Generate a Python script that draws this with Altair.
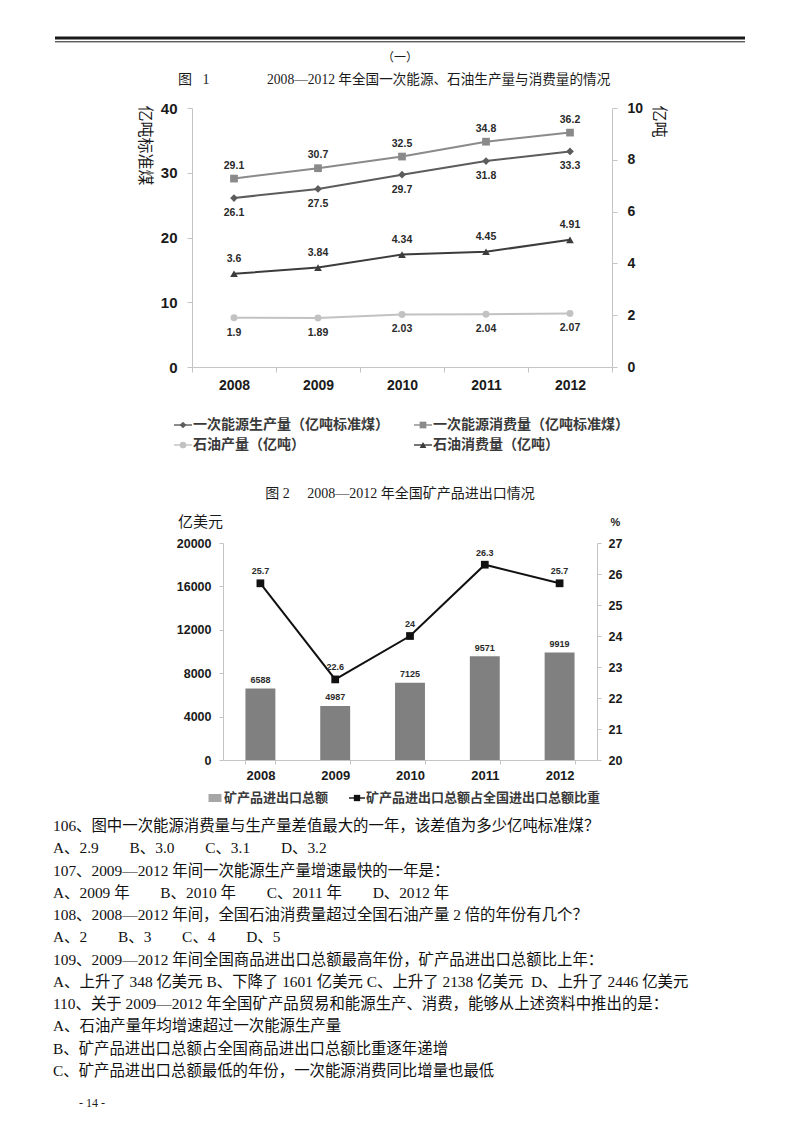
import altair as alt
import pandas as pd

# ---------------- data ----------------
years = ["2008", "2009", "2010", "2011", "2012"]
energy_prod = [26.1, 27.5, 29.7, 31.8, 33.3]
energy_cons = [29.1, 30.7, 32.5, 34.8, 36.2]
oil_prod = [1.9, 1.89, 2.03, 2.04, 2.07]
oil_cons = [3.6, 3.84, 4.34, 4.45, 4.91]
series1_names = ["一次能源生产量（亿吨标准煤）", "一次能源消费量（亿吨标准煤）",
                 "石油产量（亿吨）", "石油消费量（亿吨）"]
left_ticks1 = [0, 10, 20, 30, 40]
right_ticks1 = [0, 2, 4, 6, 8, 10]

mineral_trade = [6588, 4987, 7125, 9571, 9919]
mineral_share = [25.7, 22.6, 24, 26.3, 25.7]
series2_names = ["矿产品进出口总额", "矿产品进出口总额占全国进出口总额比重"]
left_ticks2 = [0, 4000, 8000, 12000, 16000, 20000]
right_ticks2 = [20, 21, 22, 23, 24, 25, 26, 27]

section_label = "（一）"
fig1_no = "图\u00a0\u00a0\u00a01"
fig1_title = "2008—2012 年全国一次能源、石油生产量与消费量的情况"
fig1_left_title = "亿吨标准煤"
fig1_right_title = "亿吨"
fig2_title = "图 2\u3000 2008—2012 年全国矿产品进出口情况"
fig2_left_title = "亿美元"
fig2_right_title = "%"
question_lines = [
    "106、图中一次能源消费量与生产量差值最大的一年，该差值为多少亿吨标准煤？",
    "A、2.9\u3000\u3000B、3.0\u3000\u3000C、3.1\u3000\u3000D、3.2",
    "107、2009—2012 年间一次能源生产量增速最快的一年是：",
    "A、2009 年\u3000\u3000B、2010 年\u3000\u3000C、2011 年\u3000\u3000D、2012 年",
    "108、2008—2012 年间，全国石油消费量超过全国石油产量 2 倍的年份有几个？",
    "A、2\u3000\u3000B、3\u3000\u3000C、4\u3000\u3000D、5",
    "109、2009—2012 年间全国商品进出口总额最高年份，矿产品进出口总额比上年：",
    "A、上升了 348 亿美元 B、下降了 1601 亿美元 C、上升了 2138 亿美元\u00a0\u00a0D、上升了 2446 亿美元",
    "110、关于 2009—2012 年全国矿产品贸易和能源生产、消费，能够从上述资料中推出的是：",
    "A、石油产量年均增速超过一次能源生产量",
    "B、矿产品进出口总额占全国商品进出口总额比重逐年递增",
    "C、矿产品进出口总额最低的年份，一次能源消费同比增量也最低",
]
page_number = "- 14 -"

# ---------------- styles ----------------
SERIF = "Liberation Serif, Noto Sans CJK SC"
CJK = "Noto Sans CJK SC"
NUM = "Liberation Sans"
AXIS_GRAY = "#c4c4c4"
TXT = "#1a1a1a"
colors1 = ["#5c5c5c", "#8a8a8a", "#c2c2c2", "#3c3c3c"]
shapes1 = ["diamond", "square", "circle", "triangle-up"]
sizes1 = [60, 60, 48, 60]
dy1 = [15, -13, 15, -15]

W = 784
HA, HB, HC = 462, 345, 309
one = pd.DataFrame({"a": [0]})


def vtext(txt, x, y, size, font=SERIF, align="left", weight="normal", color=TXT):
    return alt.Chart(one).mark_text(text=txt, font=font, fontSize=size, align=align,
                                    baseline="middle", fontWeight=weight, color=color
                                    ).encode(x=alt.value(x), y=alt.value(y))


# ================= Panel A : header + figure 1 =================
rule_thick = alt.Chart(one).mark_rule(color="#1a1a1a", strokeWidth=3).encode(
    x=alt.value(47), x2=alt.value(737), y=alt.value(30))
rule_thin = alt.Chart(one).mark_rule(color="#1a1a1a", strokeWidth=1).encode(
    x=alt.value(47), x2=alt.value(737), y=alt.value(33.8))
header = alt.layer(
    rule_thick, rule_thin,
    vtext(section_label, 392, 50, 12, align="center"),
    vtext(fig1_no, 170, 72, 14),
    vtext(fig1_title, 259, 72, 13.6),
)

A_PL, A_PR, A_PT, A_PB = 184, 604, 100, 359
xs1 = alt.Scale(type="band", domain=years, range=[A_PL, A_PR], paddingInner=0, paddingOuter=0)
x_axis1 = alt.Axis(orient="bottom", offset=-(HA - A_PB), tickBand="extent", tickSize=5,
                   labelPadding=6, labelFont=NUM, labelFontWeight="bold", labelFontSize=14,
                   labelColor=TXT, labelAngle=0, domainColor=AXIS_GRAY, tickColor=AXIS_GRAY,
                   title=None, grid=False)

left_df = pd.DataFrame({
    "year": years * 2,
    "v": energy_prod + energy_cons,
    "s": [series1_names[0]] * 5 + [series1_names[1]] * 5,
})
right_df = pd.DataFrame({
    "year": years * 2,
    "v": oil_prod + oil_cons,
    "s": [series1_names[2]] * 5 + [series1_names[3]] * 5,
})

yL1 = alt.Y("v:Q", scale=alt.Scale(domain=[0, 40], range=[A_PB, A_PT], nice=False),
            axis=alt.Axis(orient="left", offset=-A_PL, values=left_ticks1, tickSize=5,
                          labelPadding=10, labelFont=NUM, labelFontWeight="bold",
                          labelFontSize=15, labelColor=TXT, domainColor=AXIS_GRAY,
                          tickColor=AXIS_GRAY, grid=False, title=fig1_left_title,
                          titleAngle=90, titleX=-48, titleY=137, titleFont=CJK,
                          titleFontSize=16, titleFontWeight="normal", titleColor=TXT,
                          titleAlign="center", titleBaseline="middle"))
yR1 = alt.Y("v:Q", scale=alt.Scale(domain=[0, 10], range=[A_PB, A_PT], nice=False),
            axis=alt.Axis(orient="right", offset=-(W - A_PR), values=right_ticks1, tickSize=5,
                          labelPadding=10, labelFont=NUM, labelFontWeight="bold",
                          labelFontSize=14, labelColor=TXT, domainColor=AXIS_GRAY,
                          tickColor=AXIS_GRAY, grid=False, title=fig1_right_title,
                          titleAngle=90, titleX=46, titleY=113, titleFont=CJK,
                          titleFontSize=16, titleFontWeight="normal", titleColor=TXT,
                          titleAlign="center", titleBaseline="middle"))


def series_layers(df, y, xaxis, idxs):
    base = alt.Chart(df).encode(
        x=alt.X("year:N", scale=xs1, axis=xaxis, bandPosition=0.5, sort=years),
        y=y,
        text=alt.Text("v:Q"),
    )
    layers = []
    for k in idxs:
        b = base.transform_filter(alt.datum.s == series1_names[k])
        layers.append(b.mark_line(color=colors1[k], strokeWidth=2))
    for k in idxs:
        b = base.transform_filter(alt.datum.s == series1_names[k])
        layers.append(b.mark_point(shape=shapes1[k], filled=True, opacity=1,
                                   color=colors1[k], size=sizes1[k]))
        layers.append(b.mark_text(dy=dy1[k], font=NUM, fontWeight="bold", fontSize=10.5,
                                  color="#2a2a2a"))
    return alt.layer(*layers)


chart1_left = series_layers(left_df, yL1, x_axis1, [0, 1])
chart1_right = series_layers(right_df, yR1, None, [2, 3])

leg1_df = pd.DataFrame({"name": series1_names,
                        "col": [i % 2 for i in range(4)],
                        "row": [i // 2 for i in range(4)]})
leg1_base = alt.Chart(leg1_df).encode(
    x=alt.X("col:Q", scale=alt.Scale(domain=[0, 1], range=[175, 415]), axis=None),
    y=alt.Y("row:Q", scale=alt.Scale(domain=[0, 1], range=[417, 437]), axis=None),
)
leg1_color = alt.Color("name:N", scale=alt.Scale(domain=series1_names, range=colors1), legend=None)
legend1 = alt.layer(
    leg1_base.mark_tick(orient="horizontal", size=18, thickness=2).encode(color=leg1_color),
    leg1_base.mark_point(filled=True, opacity=1, size=45).encode(
        color=leg1_color,
        shape=alt.Shape("name:N", scale=alt.Scale(domain=series1_names, range=shapes1), legend=None)),
    leg1_base.mark_text(align="left", dx=10, font=CJK, fontSize=14, fontWeight="bold",
                        color="#3a3a3a").encode(text="name:N"),
)

panelA = alt.layer(header, chart1_left, chart1_right, legend1).resolve_scale(
    x="independent", y="independent", color="independent", shape="independent"
).properties(width=W, height=HA)

# ================= Panel B : figure 2 =================
B_PL, B_PR, B_PT, B_PB = 215, 589, 73, 290
xs2 = alt.Scale(type="band", domain=years, range=[B_PL, B_PR], paddingInner=0.6, paddingOuter=0.3)
x_axis2 = alt.Axis(orient="bottom", offset=-(HB - B_PB), tickBand="extent", tickSize=4,
                   labelPadding=5, labelFont=NUM, labelFontWeight="bold", labelFontSize=13,
                   labelColor=TXT, labelAngle=0, domainColor=AXIS_GRAY, tickColor=AXIS_GRAY,
                   title=None, grid=False)
trade_df = pd.DataFrame({"year": years, "v": mineral_trade})
share_df = pd.DataFrame({"year": years, "v": mineral_share})

yL2 = alt.Y("v:Q", scale=alt.Scale(domain=[0, 20000], range=[B_PB, B_PT], nice=False),
            axis=alt.Axis(orient="left", offset=-B_PL, values=left_ticks2, format="d",
                          tickSize=4, labelPadding=8, labelFont=NUM, labelFontWeight="bold",
                          labelFontSize=12.5, labelColor=TXT, domainColor=AXIS_GRAY,
                          tickColor=AXIS_GRAY, grid=False, title=fig2_left_title,
                          titleAngle=0, titleX=-23, titleY=51, titleFont=CJK,
                          titleFontSize=15, titleFontWeight="normal", titleColor=TXT,
                          titleAlign="center", titleBaseline="middle"))
yR2 = alt.Y("v:Q", scale=alt.Scale(domain=[20, 27], range=[B_PB, B_PT], nice=False, zero=False),
            axis=alt.Axis(orient="right", offset=-(W - B_PR), values=right_ticks2, tickSize=4,
                          labelPadding=7, labelFont=NUM, labelFontWeight="bold",
                          labelFontSize=12.5, labelColor=TXT, domainColor=AXIS_GRAY,
                          tickColor=AXIS_GRAY, grid=False, title=fig2_right_title,
                          titleAngle=0, titleX=18, titleY=52, titleFont=NUM,
                          titleFontSize=11, titleFontWeight="bold", titleColor=TXT,
                          titleAlign="center", titleBaseline="middle"))

bars = alt.Chart(trade_df).mark_bar(color="#808080").encode(
    x=alt.X("year:N", scale=xs2, axis=x_axis2, sort=years), y=yL2)
bar_txt = alt.Chart(trade_df).mark_text(dy=-8.5, font=NUM, fontWeight="bold", fontSize=9,
                                        color="#2a2a2a").encode(
    x=alt.X("year:N", scale=xs2, axis=x_axis2, sort=years, bandPosition=0.5), y=yL2,
    text=alt.Text("v:Q", format="d"))
chart2_left = alt.layer(bars, bar_txt)

share_base = alt.Chart(share_df).encode(
    x=alt.X("year:N", scale=xs2, axis=None, sort=years, bandPosition=0.5), y=yR2,
    text=alt.Text("v:Q"))
chart2_right = alt.layer(
    share_base.mark_line(color="#111111", strokeWidth=2),
    share_base.mark_point(shape="square", filled=True, opacity=1, color="#111111", size=60),
    share_base.mark_text(dy=-12, font=NUM, fontWeight="bold", fontSize=9, color="#2a2a2a"),
)

leg2_df = pd.DataFrame({"name": series2_names, "k": list(range(len(series2_names)))})
leg2_base = alt.Chart(leg2_df).encode(
    x=alt.X("k:Q", scale=alt.Scale(domain=[0, 1], range=[207, 349]), axis=None),
    y=alt.value(328),
)
legend2 = alt.layer(
    leg2_base.transform_filter(alt.datum.k == 0).mark_tick(
        orient="horizontal", size=13, thickness=8, color="#808080"),
    leg2_base.transform_filter(alt.datum.k == 1).mark_tick(
        orient="horizontal", size=16, thickness=2, color="#111111"),
    leg2_base.transform_filter(alt.datum.k == 1).mark_point(
        shape="square", filled=True, opacity=1, size=40, color="#111111"),
    leg2_base.mark_text(align="left", dx=9, font=CJK, fontSize=13, fontWeight="bold",
                        color="#3a3a3a").encode(text="name:N"),
)

panelB = alt.layer(
    vtext(fig2_title, 392, 24, 14, align="center"),
    chart2_left, chart2_right, legend2,
).resolve_scale(x="independent", y="independent").properties(width=W, height=HB)

# ================= Panel C : questions =================
q_df = pd.DataFrame({"i": list(range(len(question_lines))), "t": question_lines})
questions = alt.Chart(q_df).mark_text(align="left", baseline="middle", font=SERIF,
                                      fontSize=15.4, color="#111111").encode(
    x=alt.value(45),
    y=alt.Y("i:Q", scale=alt.Scale(domain=[0, len(question_lines) - 1], range=[11, 256]),
            axis=None),
    text="t:N",
)
panelC = alt.layer(
    questions,
    vtext(page_number, 84, 288, 12, align="center"),
).properties(width=W, height=HC)

chart = alt.vconcat(panelA, panelB, panelC, spacing=0, bounds="flush").properties(
    padding=0
).configure_view(stroke=None)

chart.save("out.html", embed_options={"renderer": "svg", "actions": False})
